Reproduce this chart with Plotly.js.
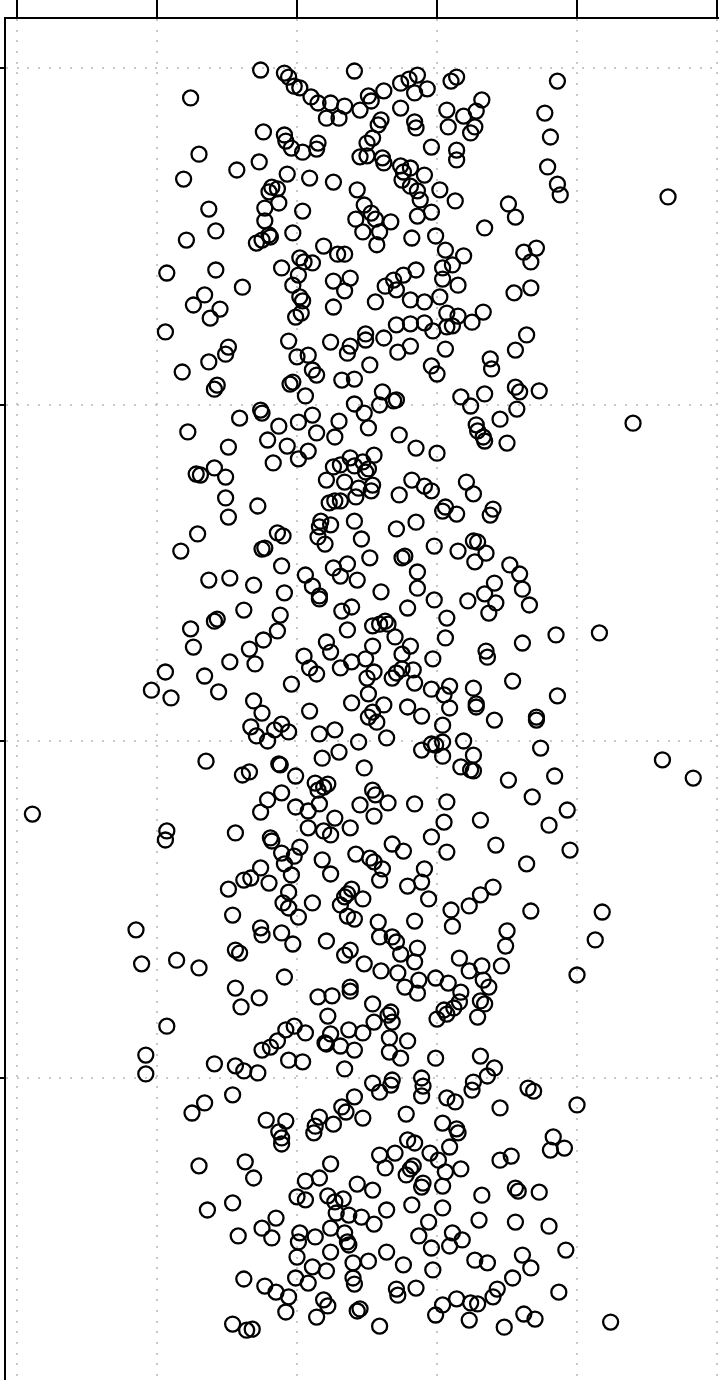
<!DOCTYPE html>
<html><head><meta charset="utf-8">
<script src="https://cdn.plot.ly/plotly-3.0.1.min.js"></script>
<style>html,body{margin:0;padding:0;background:#fff}#chart{width:719px;height:1380px}</style>
</head><body><div id="chart"></div>
<script>
// Points as [x, y] pairs, grouped by horizontal grid band
const bandTop = [[17.4,29.94],[19.1,29.85],[19.4,29.73],[24.1,29.91],[28.6,29.79],[28.0,29.67],[27.4,29.55],[31.4,29.73],[31.0,29.61],[38.6,29.61],
[19.8,29.46],[20.2,29.41],[26.2,29.32],[28.4,29.26],[29.3,29.38],[25.1,29.17],[25.3,29.02],[21.0,29.14],[21.5,28.96],[22.4,28.96],
[23.4,28.87],[12.4,29.11],[33.2,29.05],[24.5,28.75],[27.4,28.81],[32.8,28.72],[31.9,28.57],[30.7,28.75],[37.7,28.66],[22.1,28.51],
[23.0,28.51],[26.0,28.46],[25.8,28.31],[28.4,28.40],[28.5,28.22],[30.8,28.25],[32.7,28.25],[32.4,28.07],[17.6,28.10],[19.1,28.01],
[19.2,27.83],[25.4,27.92],[25.0,27.77],[38.1,27.95],[21.5,27.77],[21.4,27.59],[20.4,27.50],[19.6,27.62],[29.6,27.65],[31.4,27.56],
[31.4,27.27],[13.0,27.44],[24.5,27.36],[25.0,27.39],[26.1,27.33],[26.2,27.18],[27.4,27.09],[27.6,26.91],[28.1,27.03],[17.3,27.21],
[15.7,26.97],[37.9,27.06],[19.3,26.85],[20.9,26.73],[22.6,26.61],[29.1,26.82],[11.9,26.70],[27.5,26.67],[28.1,26.49],[28.6,26.35],
[28.8,26.08],[38.6,26.55],[38.8,26.23],[18.2,26.46],[18.6,26.41],[18.0,26.32],[24.3,26.38],[46.5,26.17],[30.2,26.38],[18.7,25.99],
[24.8,25.93],[31.3,26.05],[35.1,25.96],[35.6,25.57],[13.7,25.81],[20.4,25.75],[25.3,25.69],[25.6,25.51],[17.7,25.84],[29.6,25.72],
[28.6,25.60],[24.2,25.51],[17.7,25.46],[26.7,25.43],[14.2,25.16],[18.0,25.04],[18.1,24.98],[19.7,25.10],[33.4,25.25],[25.9,25.13],
[24.7,25.13],[28.2,24.95],[29.9,25.01],[25.7,24.75],[12.1,24.89],[17.1,24.80],[17.5,24.89],[21.9,24.71],[30.6,24.59],[37.1,24.65],
[36.2,24.53],[36.7,24.24],[20.2,24.36],[20.5,24.24],[22.9,24.47],[23.4,24.47],[21.1,24.21],[31.9,24.42],[31.1,24.15],[30.4,24.06],
[28.5,24.00],[27.6,23.85],[26.9,23.70],[10.7,23.91],[14.2,24.00],[18.9,24.06],[20.1,23.85],[19.7,23.55],[22.6,23.67],[23.8,23.76],
[30.4,23.73],[31.5,23.55],[26.3,23.52],[27.1,23.41],[16.1,23.49],[36.7,23.47],[35.5,23.32],[13.4,23.26],[12.6,22.96],[14.5,22.84],
[13.8,22.57],[20.2,23.20],[20.4,23.08],[23.4,23.38],[25.6,23.05],[28.1,23.11],[29.1,23.05],[30.2,23.20],[22.6,22.90],[19.9,22.60],
[20.3,22.72],[30.7,22.72],[31.5,22.63],[33.3,22.75],[32.5,22.45],[27.1,22.37],[28.1,22.40],[29.1,22.43],[29.7,22.19],[30.7,22.31],
[31.1,22.34],[10.6,22.16],[36.4,22.07],[24.9,22.10],[24.9,21.92],[23.8,21.74],[23.6,21.53],[26.2,21.98],[22.4,21.86],[19.4,21.89],
[15.1,21.71],[14.9,21.50],[28.1,21.74],[30.6,21.65],[27.2,21.56],[35.6,21.62],[20.0,21.42],[20.8,21.47],[13.7,21.27],[25.2,21.18],
[21.1,21.03],[21.4,20.88],[33.8,21.36],[33.9,21.06],[29.6,21.15],[30.0,20.91],[11.8,20.97],[23.2,20.73],[24.1,20.76],[19.5,20.61],
[19.7,20.67],[14.3,20.58],[14.1,20.46],[35.6,20.52],[35.9,20.38],[37.3,20.41],[33.4,20.32],[20.6,20.26],[26.1,20.38],[27.1,20.14],
[26.9,20.11],[24.1,20.02],[25.9,19.99],[31.7,20.23]];

const bandUpper = [[35.7,19.87],[34.5,19.57],[32.4,19.96],[17.4,19.84],[17.5,19.75],[15.9,19.60],[24.8,19.75],[21.1,19.69],[20.1,19.48],[18.7,19.36],
[32.8,19.40],[32.9,19.22],[33.3,19.04],[33.4,18.92],[25.1,19.31],[23.0,19.51],[21.4,19.16],[27.3,19.10],[35.0,18.86],[44.0,19.45],
[12.2,19.19],[17.9,18.95],[22.7,19.04],[19.3,18.77],[15.1,18.74],[28.5,18.71],[30.0,18.56],[20.8,18.62],[20.1,18.39],[25.5,18.50],
[23.8,18.42],[24.7,18.30],[22.6,18.15],[23.1,18.21],[24.1,18.18],[25.1,18.09],[24.9,18.00],[18.3,18.27],[14.1,18.12],[12.8,17.94],
[13.1,17.91],[14.9,17.85],[22.1,17.76],[23.4,17.70],[32.1,17.70],[24.4,17.52],[25.4,17.61],[25.3,17.44],[28.2,17.76],[29.1,17.58],
[29.6,17.44],[32.6,17.35],[27.3,17.32],[14.9,17.23],[24.2,17.26],[23.1,17.14],[22.3,17.08],[22.7,17.14],[30.6,16.96],[30.4,16.84],
[31.4,16.75],[34.0,16.90],[33.8,16.72],[17.2,16.99],[15.1,16.66],[28.5,16.51],[27.1,16.31],[24.1,16.54],[21.7,16.54],[21.6,16.37],
[22.4,16.43],[18.6,16.19],[19.0,16.10],[21.5,16.07],[22.0,15.86],[24.6,16.01],[32.6,15.95],[32.9,15.92],[12.9,16.16],[29.8,15.80],
[17.7,15.74],[17.5,15.71],[11.7,15.65],[33.5,15.59],[31.5,15.65],[27.5,15.45],[27.7,15.50],[25.2,15.45],[32.7,15.33],[23.6,15.27],
[18.9,15.21],[35.2,15.24],[35.9,14.97],[22.6,15.15],[28.6,15.03],[23.1,14.91],[24.3,14.79],[15.2,14.85],[13.7,14.79],[20.6,14.94],
[21.1,14.61],[16.9,14.64],[34.1,14.70],[19.1,14.41],[21.6,14.32],[21.6,14.23],[26.0,14.44],[28.6,14.55],[29.8,14.20],[32.2,14.17],
[33.4,14.38],[34.2,14.11],[36.1,14.52],[36.6,14.05],[33.7,13.81],[23.2,13.87],[23.9,13.99],[27.9,13.96],[16.2,13.90],[18.8,13.75],
[30.7,13.66],[14.3,13.63],[14.1,13.57],[26.3,13.57],[25.9,13.48],[25.4,13.43],[26.5,13.48],[12.4,13.34],[18.6,13.28],[23.6,13.31],
[17.6,13.01],[27.0,13.10],[30.6,13.07],[38.5,13.16],[41.6,13.22],[22.1,12.95],[12.6,12.80],[16.6,12.74],[25.4,12.83],[28.1,12.83],
[22.4,12.65],[36.1,12.92],[20.5,12.53],[24.9,12.45],[33.5,12.68],[33.6,12.50],[15.2,12.36],[17.0,12.30],[27.5,12.59],[29.7,12.45],
[23.9,12.36],[20.9,12.18],[23.1,12.18],[27.5,12.15],[27.1,12.03],[28.3,12.12],[10.6,12.06],[13.4,11.94],[21.4,12.00],[25.0,11.88],
[25.5,12.06],[26.8,11.88],[28.4,11.73],[35.4,11.79],[19.6,11.70],[9.6,11.52],[11.0,11.29],[14.4,11.47],[25.1,11.41],[29.6,11.55],
[30.9,11.64],[32.6,11.58],[38.6,11.35],[30.5,11.38],[32.8,11.11],[32.8,11.02],[27.9,11.02],[30.9,10.99],[26.2,11.08],[23.9,11.14],
[16.9,11.20],[20.9,10.90],[17.5,10.84],[18.9,10.51],[19.4,10.28],[22.7,10.34],[25.4,10.87],[25.1,10.72],[25.7,10.57],[28.9,10.75],
[30.4,10.48],[37.1,10.72],[37.1,10.63],[34.1,10.63],[16.7,10.43],[18.4,10.34],[21.6,10.22],[26.4,10.10],[17.1,10.16],[17.9,10.01],
[24.4,9.98],[30.4,9.98],[31.9,10.01]];

const bandLower = [[29.9,9.89],[29.6,9.92],[28.9,9.74],[37.4,9.80],[23.0,9.68],[32.6,9.59],[30.4,9.56],[21.8,9.50],[13.5,9.41],[18.7,9.33],
[18.8,9.30],[46.1,9.45],[24.8,9.21],[31.7,9.24],[32.4,9.15],[32.6,9.12],[48.3,8.91],[16.6,9.09],[16.1,9.00],[19.9,8.97],
[21.3,8.76],[21.9,8.64],[22.2,8.73],[21.5,8.55],[25.4,8.55],[25.6,8.41],[35.1,8.85],[38.4,8.97],[18.9,8.47],[17.9,8.26],
[26.5,8.17],[28.4,8.14],[30.7,8.20],[36.8,8.35],[19.9,8.05],[17.4,7.90],[24.5,8.11],[21.6,8.14],[20.8,7.93],[1.1,7.84],
[39.3,7.96],[22.7,7.72],[25.5,7.78],[30.5,7.60],[33.1,7.66],[38.0,7.51],[23.8,7.43],[10.7,7.34],[10.6,7.07],[15.6,7.28],
[21.9,7.34],[22.4,7.22],[20.8,7.43],[29.6,7.16],[18.1,7.13],[18.2,7.04],[26.8,6.95],[34.2,6.92],[27.6,6.74],[30.7,6.71],
[20.2,6.86],[19.8,6.59],[18.9,6.68],[24.2,6.65],[39.5,6.77],[25.2,6.53],[25.5,6.42],[21.8,6.48],[17.4,6.24],[29.1,6.21],
[19.1,6.36],[36.4,6.36],[16.7,5.94],[16.2,5.88],[22.4,6.06],[26.1,6.21],[25.9,5.88],[18.0,5.79],[19.6,6.03],[27.9,5.70],
[28.9,5.82],[34.0,5.67],[15.1,5.61],[19.4,5.52],[23.9,5.61],[23.6,5.47],[23.4,5.38],[33.1,5.44],[29.4,5.32],[24.7,5.32],
[19.0,5.20],[19.4,5.05],[23.1,5.14],[21.1,5.20],[32.3,5.11],[31.0,4.99],[36.7,4.96],[41.8,4.93],[15.4,4.84],[23.6,4.81],
[24.1,4.72],[20.1,4.78],[25.8,4.63],[28.4,4.66],[31.1,4.51],[8.5,4.40],[17.4,4.46],[17.5,4.25],[18.9,4.31],[35.0,4.37],
[22.1,4.07],[19.7,3.98],[25.9,4.19],[26.8,4.19],[27.1,4.04],[28.6,3.86],[41.3,4.10],[34.9,3.92],[15.6,3.80],[15.9,3.71],
[23.4,3.65],[23.8,3.80],[27.4,3.68],[31.6,3.56],[8.9,3.39],[11.4,3.50],[13.0,3.27],[24.8,3.39],[28.4,3.45],[33.2,3.33],
[34.6,3.33],[32.3,3.18],[28.7,2.91],[29.9,2.97],[26.0,3.18],[27.2,3.12],[19.1,3.00],[40.0,3.06],[33.3,2.91],[33.7,2.70],[30.8,2.82],
[15.6,2.67],[21.5,2.41],[22.5,2.44],[23.8,2.70],[23.8,2.58],[27.7,2.70],[28.6,2.52],[31.7,2.55],[31.6,2.26],[33.1,2.29],
[33.4,2.20],[17.3,2.38],[16.0,2.11],[25.4,2.20],[31.2,2.08],[30.5,2.02],[30.7,1.90],[30.0,1.75],[26.7,1.96],[26.5,1.87],
[32.9,1.81],[22.2,1.84],[26.8,1.66],[10.7,1.54],[19.8,1.54],[19.2,1.43],[25.5,1.66],[23.7,1.43],[24.7,1.34],[20.6,1.34],
[22.4,1.31],[18.6,1.10],[18.1,0.92],[17.5,0.83],[23.1,0.95],[22.0,1.04],[22.1,1.01],[27.9,1.10],[26.6,1.19],[26.6,0.77],
[24.1,0.83],[9.2,0.68],[9.2,0.12],[19.4,0.53],[20.4,0.48],[27.4,0.59],[29.9,0.59],[33.1,0.65],[14.1,0.42],[15.6,0.36],
[16.2,0.21],[17.2,0.15],[23.4,0.27],[34.1,0.30],[33.6,0.06],[28.9,0.00]];

const bandBottom = [[29.0,-0.24],[25.4,-0.15],[26.8,-0.06],[26.7,-0.21],[32.6,-0.12],[32.5,-0.36],[36.5,-0.30],[36.9,-0.39],[25.9,-0.42],[15.4,-0.50],
[13.4,-0.74],[12.5,-1.04],[24.1,-0.56],[28.9,-0.53],[30.7,-0.59],[31.3,-0.71],[34.5,-0.89],[40.0,-0.80],[23.2,-0.86],[23.5,-1.01],
[27.8,-1.07],[17.8,-1.25],[19.2,-1.28],[21.6,-1.16],[24.7,-1.19],[22.6,-1.37],[30.4,-1.34],[21.3,-1.43],[21.2,-1.63],[31.4,-1.51],
[31.5,-1.63],[18.7,-1.60],[18.9,-1.78],[18.9,-1.96],[38.3,-1.75],[27.9,-1.84],[28.4,-1.93],[38.1,-2.14],[39.1,-2.08],[25.9,-2.29],
[27.0,-2.23],[30.9,-2.05],[29.5,-2.23],[30.1,-2.44],[35.3,-2.32],[34.5,-2.44],[16.3,-2.49],[13.0,-2.61],[22.4,-2.55],[31.7,-2.70],
[28.1,-2.70],[28.3,-2.61],[26.3,-2.67],[30.6,-2.79],[16.9,-2.97],[21.6,-2.97],[20.6,-3.06],[27.8,-2.88],[29.0,-3.12],[28.9,-3.24],
[30.4,-3.21],[33.2,-3.48],[35.6,-3.27],[35.8,-3.36],[37.3,-3.39],[20.0,-3.53],[22.2,-3.50],[22.7,-3.68],[23.3,-3.59],[20.6,-3.62],
[24.3,-3.15],[25.4,-3.33],[15.4,-3.71],[13.6,-3.92],[28.2,-3.77],[26.4,-3.92],[22.8,-4.01],[30.4,-3.86],[18.5,-4.16],[23.7,-4.07],
[24.6,-4.13],[25.5,-4.34],[17.5,-4.46],[20.2,-4.60],[23.4,-4.60],[22.4,-4.46],[29.4,-4.28],[33.0,-4.22],[35.6,-4.28],[38.0,-4.40],
[15.8,-4.69],[18.2,-4.75],[21.3,-4.72],[23.7,-4.96],[23.6,-4.87],[20.1,-4.87],[22.4,-5.17],[28.7,-4.69],[31.1,-4.60],[31.8,-4.81],
[29.6,-5.05],[30.9,-4.99],[39.2,-5.11],[26.4,-5.17],[20.0,-5.32],[24.0,-5.49],[25.1,-5.44],[21.1,-5.61],[22.1,-5.73],[27.6,-5.55],
[29.7,-5.70],[32.7,-5.41],[33.6,-5.49],[36.1,-5.26],[36.7,-5.64],[16.2,-5.97],[19.9,-5.94],[20.8,-6.09],[24.0,-5.94],[24.1,-6.12],
[27.1,-6.27],[27.2,-6.45],[28.5,-6.24],[17.7,-6.18],[18.5,-6.36],[19.4,-6.50],[35.4,-5.94],[34.3,-6.27],[38.7,-6.36],[21.9,-6.59],
[22.2,-6.77],[19.2,-6.95],[30.4,-6.74],[31.4,-6.56],[32.4,-6.68],[32.9,-6.71],[34.0,-6.50],[24.5,-6.86],[24.3,-6.92],[21.4,-7.10],
[29.9,-7.04],[32.3,-7.19],[36.2,-7.01],[37.0,-7.16],[34.8,-7.40],[25.9,-7.37],[42.4,-7.25],[15.4,-7.31],[16.4,-7.49],[16.8,-7.46]];

const bands = [bandTop, bandUpper, bandLower, bandBottom];
const xVals = [], yVals = [];
bands.forEach(b => b.forEach(p => { xVals.push(p[0]); yVals.push(p[1]); }));

const trace = {
  x: xVals, y: yVals, type: 'scatter', mode: 'markers',
  marker: {symbol: 'circle-open', size: 15, color: '#000', line: {width: 2.3, color: '#000'}},
  hoverinfo: 'x+y'
};

const gridDash = '2px,8.67px';
const layout = {
  width: 719, height: 1380,
  margin: {l: 6, r: 0, t: 19, b: 0, pad: 0},
  paper_bgcolor: '#fff', plot_bgcolor: '#fff',
  showlegend: false,
  xaxis: {
    side: 'top', range: [-0.786, 50.14], tick0: 0, dtick: 10,
    showline: true, linecolor: '#000', linewidth: 2,
    ticks: 'outside', ticklen: 19, tickwidth: 2, tickcolor: '#000',
    showticklabels: false, zeroline: false,
    showgrid: true, gridcolor: '#c8c8c8', gridwidth: 2, griddash: gridDash
  },
  yaxis: {
    range: [-8.97, 31.455], tick0: 0, dtick: 10,
    showline: true, linecolor: '#000', linewidth: 2,
    ticks: 'outside', ticklen: 6, tickwidth: 2, tickcolor: '#000',
    showticklabels: false, zeroline: false,
    showgrid: true, gridcolor: '#c8c8c8', gridwidth: 2, griddash: gridDash
  }
};
Plotly.newPlot('chart', [trace], layout, {staticPlot: true, displayModeBar: false});
</script></body></html>
